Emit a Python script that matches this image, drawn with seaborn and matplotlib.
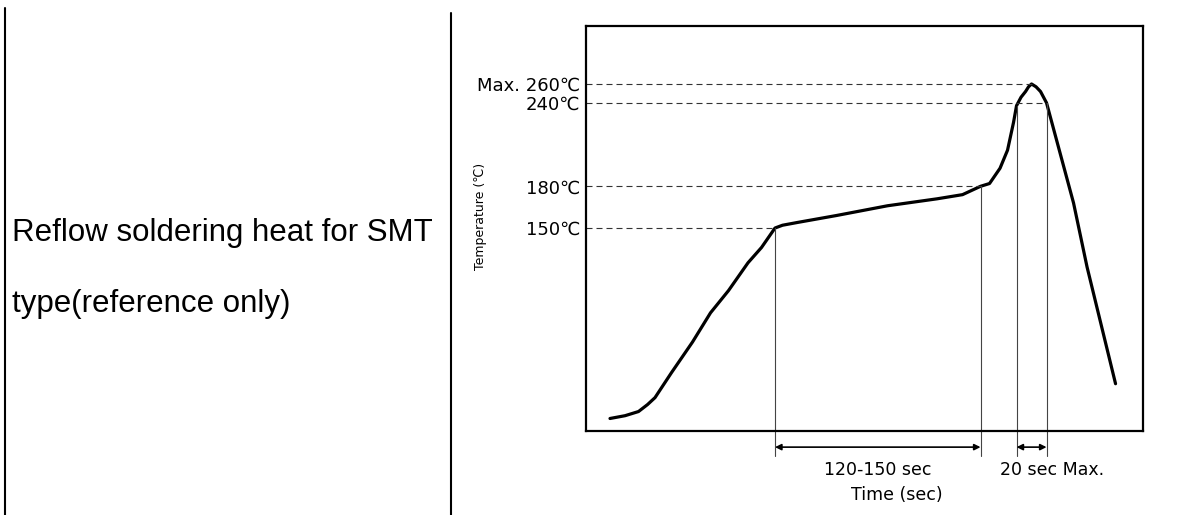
import numpy as np
import pandas as pd
import seaborn as sns
import matplotlib
matplotlib.use("Agg")
from matplotlib import pyplot as plt
from matplotlib.lines import Line2D

# reflow profile (time in sec, temperature in C)
time_s = [16, 26, 35, 41, 46, 57, 71, 83, 95, 108, 117, 126, 131, 141, 167, 201, 234, 251,
          263, 269, 276, 281, 285, 287, 290, 293, 295, 297, 300, 303, 307, 316, 325, 334, 353]
temp_c = [13, 15, 18, 23, 28, 46, 68, 89, 105, 125, 136, 150, 152, 154, 159, 166, 171, 174,
          180, 182, 193, 206, 226, 238, 246, 252, 257, 260, 257, 252, 240, 204, 168, 122, 38]

level_temps = [150, 180, 240, 260]
level_labels = ['150℃', '180℃', '240℃', 'Max. 260℃']
level_ends = [126, 263, 307, 297]      # where each dashed level meets the curve

guide_times = [126, 263, 287, 307]      # vertical guide lines
guide_temps = [150, 180, 238, 240]
spans = [(126, 263, '120-150 sec', 194.5), (287, 307, '20 sec Max.', 311)]

df = pd.DataFrame({'time': time_s, 'temp': temp_c})

sns.set_style('white')
plt.rcParams['font.family'] = ['DejaVu Sans', 'Noto Sans CJK SC']
plt.rcParams['text.color'] = 'black'
plt.rcParams['ytick.color'] = 'black'
plt.rcParams['axes.labelcolor'] = 'black'

fig = plt.figure(figsize=(11.94, 5.15), dpi=100)

# table borders and the left hand caption
fig.add_artist(Line2D([5 / 1194, 5 / 1194], [0, 1 - 8 / 515], color='black', lw=1.5))
fig.add_artist(Line2D([451 / 1194, 451 / 1194], [0, 1 - 13 / 515], color='black', lw=1.5))
fig.text(12 / 1194, 1 - 241 / 515, 'Reflow soldering heat for SMT', family='Liberation Sans',
         fontsize=22.5, va='baseline', ha='left')
fig.text(12 / 1194, 1 - 312 / 515, 'type(reference only)', family='Liberation Sans',
         fontsize=22.5, va='baseline', ha='left')

ax = fig.add_axes([586 / 1194, 1 - 431 / 515, 557 / 1194, 405 / 515])

# the picture squeezes the 240-260 band, so use a piecewise scale
t_knots = [-100, 240, 260, 500]
a_knots = [-100, 240, 253.6, 493.6]
ax.set_yscale('function', functions=(lambda t: np.interp(t, t_knots, a_knots),
                                     lambda a: np.interp(a, a_knots, t_knots)))

sns.lineplot(data=df, x='time', y='temp', ax=ax, color='black', lw=2.3,
             estimator=None, sort=False)

for lv, end in zip(level_temps, level_ends):
    ax.plot([0, end], [lv, lv], color='#333333', lw=0.8, dashes=(5.4, 3.6))

for gt, gv in zip(guide_times, guide_temps):
    ax.plot([gt, gt], [gv, -14], color='#444444', lw=0.8, clip_on=False)

for t0, t1, lab, xc in spans:
    ax.annotate('', xy=(t1, -7.6), xytext=(t0, -7.6), annotation_clip=False,
                arrowprops=dict(arrowstyle='<|-|>', mutation_scale=9, lw=1.2,
                                color='black', shrinkA=0, shrinkB=0))
    ax.text(xc, -24, lab, ha='center', va='center', fontsize=12.5, clip_on=False)

ax.text(207, -42, 'Time (sec)', ha='center', va='center', fontsize=12.5, clip_on=False)

ax.set_xlim(0, 371.3)
ax.set_ylim(4, 301.7)
ax.set_xticks([])
ax.set_yticks(level_temps, level_labels)
ax.minorticks_off()
ax.tick_params(axis='y', length=0, pad=4, labelsize=13)
ax.set_xlabel('')
ax.set_ylabel('Temperature (℃)', fontsize=9)
ax.yaxis.set_label_coords(-0.178, 0.53)
for sp in ax.spines.values():
    sp.set_visible(True)
    sp.set_color('black')
    sp.set_linewidth(1.6)

fig.savefig('out.png', dpi=100)
